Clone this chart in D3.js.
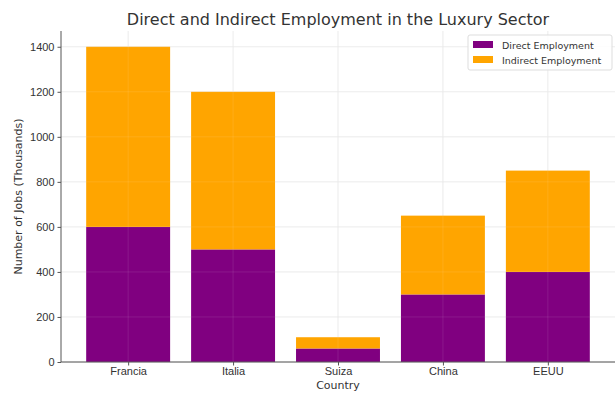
<!DOCTYPE html>
<html>
<head>
<meta charset="utf-8">
<script src="https://cdn.jsdelivr.net/npm/d3@7"></script>
<style>
  html, body { margin: 0; padding: 0; background: #fff; }
  svg { display: block; font-family: "DejaVu Sans", sans-serif; }
</style>
</head>
<body>
<svg id="chart" width="615" height="393"></svg>
<script>
// Employment in the luxury sector, thousands of jobs
const countries = ["Francia", "Italia", "Suiza", "China", "EEUU"];
const directJobs = [600, 500, 60, 300, 400];
const indirectJobs = [800, 700, 50, 350, 450];
const yTicks = [0, 200, 400, 600, 800, 1000, 1200, 1400];
const seriesNames = ["Direct Employment", "Indirect Employment"];
const seriesColors = ["#800080", "#FFA500"];

const svg = d3.select("#chart");
const margin = { left: 61, right: 0, top: 31, bottom: 31 };
const W = 615, H = 393;
const plotW = W - margin.left - margin.right;
const plotH = H - margin.top - margin.bottom;

const totals = countries.map((c, i) => directJobs[i] + indirectJobs[i]);
const x = d3.scaleLinear().domain([-0.64, countries.length - 1 + 0.64]).range([margin.left, margin.left + plotW]);
const y = d3.scaleLinear().domain([0, d3.max(totals) * 1.05]).range([margin.top + plotH, margin.top]);
const barW = 0.8;

// gridlines
const grid = svg.append("g").attr("stroke", "#e6e6e6").attr("stroke-width", 0.8);
yTicks.forEach(t => grid.append("line")
  .attr("x1", margin.left).attr("x2", margin.left + plotW)
  .attr("y1", y(t)).attr("y2", y(t)));
countries.forEach((c, i) => grid.append("line")
  .attr("x1", x(i)).attr("x2", x(i))
  .attr("y1", margin.top).attr("y2", margin.top + plotH));

// stacked bars
const bars = svg.append("g");
countries.forEach((c, i) => {
  bars.append("rect")
    .attr("x", x(i - barW / 2)).attr("width", x(i + barW / 2) - x(i - barW / 2))
    .attr("y", y(directJobs[i])).attr("height", y(0) - y(directJobs[i]))
    .attr("fill", seriesColors[0]);
  bars.append("rect")
    .attr("x", x(i - barW / 2)).attr("width", x(i + barW / 2) - x(i - barW / 2))
    .attr("y", y(totals[i])).attr("height", y(directJobs[i]) - y(totals[i]))
    .attr("fill", seriesColors[1]);
});

// faint gridlines over the bars
const grid2 = svg.append("g").attr("stroke", "#ffffff").attr("stroke-opacity", 0.12).attr("stroke-width", 0.8);
yTicks.forEach(t => grid2.append("line")
  .attr("x1", margin.left).attr("x2", margin.left + plotW)
  .attr("y1", y(t)).attr("y2", y(t)));
countries.forEach((c, i) => grid2.append("line")
  .attr("x1", x(i)).attr("x2", x(i))
  .attr("y1", margin.top).attr("y2", margin.top + plotH));

// axes
const yAxis = d3.axisLeft(y).tickValues(yTicks).tickFormat(d3.format("d")).tickSize(3.5).tickPadding(3);
const xAxis = d3.axisBottom(x).tickValues(d3.range(countries.length))
  .tickFormat(i => countries[i]).tickSize(3.5).tickPadding(2);

const gy = svg.append("g").attr("transform", `translate(${margin.left},0)`).call(yAxis);
const gx = svg.append("g").attr("transform", `translate(0,${margin.top + plotH})`).call(xAxis);
[gx, gy].forEach(g => {
  g.select(".domain").attr("stroke", "#555").attr("stroke-width", 1);
  g.selectAll(".tick line").attr("stroke", "#555");
  g.selectAll(".tick text").attr("fill", "#333").attr("font-size", 11);
});
gx.select(".domain").attr("d", `M${margin.left},0H${margin.left + plotW}`);
gy.select(".domain").attr("d", `M0,${margin.top + plotH}V${margin.top}`);

// titles
svg.append("text").attr("x", margin.left + plotW / 2).attr("y", 25)
  .attr("text-anchor", "middle").attr("font-size", 16).attr("fill", "#333")
  .text("Direct and Indirect Employment in the Luxury Sector");
svg.append("text").attr("x", margin.left + plotW / 2).attr("y", 389)
  .attr("text-anchor", "middle").attr("font-size", 11).attr("fill", "#333")
  .text("Country");
svg.append("text")
  .attr("transform", `translate(22,${margin.top + plotH / 2}) rotate(-90)`)
  .attr("text-anchor", "middle").attr("font-size", 11).attr("fill", "#333")
  .text("Number of Jobs (Thousands)");

// legend
const lg = svg.append("g").attr("transform", "translate(468,35)");
lg.append("rect").attr("width", 144).attr("height", 35).attr("rx", 2)
  .attr("fill", "#fff").attr("fill-opacity", 0.85).attr("stroke", "#ddd");
seriesNames.forEach((n, i) => {
  lg.append("rect").attr("x", 5).attr("y", 6 + i * 15).attr("width", 20).attr("height", 7)
    .attr("fill", seriesColors[i]);
  lg.append("text").attr("x", 34).attr("y", 13.5 + i * 15)
    .attr("font-size", 9.5).attr("fill", "#333").text(n);
});
</script>
</body>
</html>
